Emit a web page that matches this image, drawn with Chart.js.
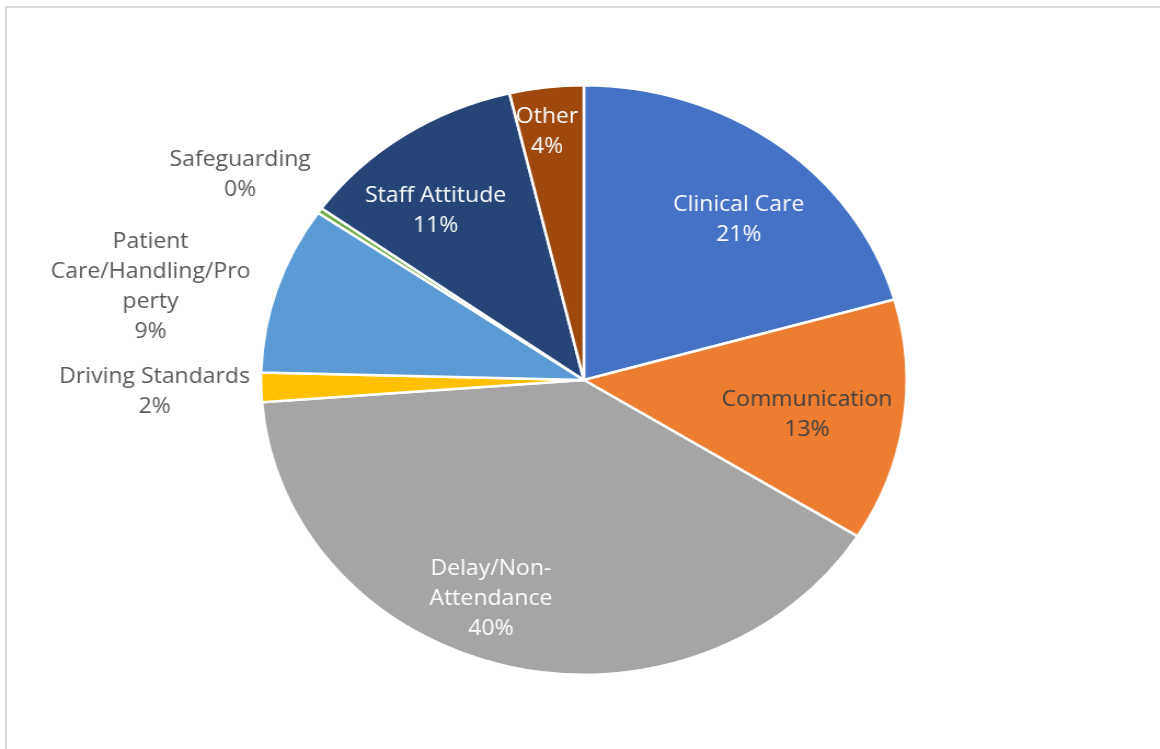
<!DOCTYPE html>
<html>
<head>
<meta charset="utf-8">
<script src="https://cdn.jsdelivr.net/npm/chart.js@4/dist/chart.umd.min.js"></script>
<style>
	html, body {
		margin: 0;
		padding: 0;
		background: #ffffff;
		overflow: hidden;
	}
	.frame {
		position: absolute;
		left: 5px;
		top: 6px;
		width: 1200px;
		height: 800px;
		border: 2px solid #d9d9d9;
	}
	.wrap {
		position: absolute;
		left: 0;
		top: 0;
		width: 1059px;
		height: 749px;
		transform: scaleX(1.0954);
		transform-origin: 0 0;
	}
</style>
</head>
<body>
<div class="frame"></div>
<div class="wrap"><canvas id="complaintsPie"></canvas></div>

<script>
// Complaint categories, with the line breaks used for their labels
const categories = [
	["Clinical Care"],
	["Communication"],
	["Delay/Non-", "Attendance"],
	["Driving Standards"],
	["Patient", "Care/Handling/Pro", "perty"],
	["Safeguarding"],
	["Staff Attitude"],
	["Other"],
];

// Share of complaints per category (%)
const shares = [20.6, 13.3, 39.9, 1.6, 9.2, 0.3, 11.4, 3.7];

const sliceColors = ["#4472c4", "#ed7d31", "#a5a5a5", "#ffc000", "#5b9bd5", "#70ad47", "#264478", "#9e480e"];

// Label text colour per slice
const labelColors = ["#ffffff", "#404040", "#ffffff", "#595959", "#595959", "#595959", "#ffffff", "#ffffff"];

// Where each label sits: distance as a fraction of the radius, angle nudge in degrees
const labelPlace = [
	{ r: 0.73, d: 4 },
	{ r: 0.7, d: 1 },
	{ r: 0.79, d: 7.5 },
	{ r: 1.33, d: 0 },
	{ r: 1.38, d: -4.5 },
	{ r: 1.275, d: -1.7 },
	{ r: 0.74, d: -4.5 },
	{ r: 0.855, d: -1 },
];

const fontFamily = "'Open Sans', 'Noto Sans', sans-serif";
const lineHeight = 30;

// Draws "Category / xx%" labels on or next to each slice
const sliceLabels = {
	id: "sliceLabels",
	afterDatasetsDraw(chart) {
		const ctx = chart.ctx;
		const meta = chart.getDatasetMeta(0);
		const total = shares.reduce((a, b) => a + b, 0);

		ctx.save();
		ctx.font = `21px ${fontFamily}`;
		ctx.textAlign = "center";
		ctx.textBaseline = "middle";

		meta.data.forEach((arc, i) => {
			const { x, y, startAngle, endAngle, outerRadius } = arc.getProps(
				["x", "y", "startAngle", "endAngle", "outerRadius"],
				true
			);
			const mid = (startAngle + endAngle) / 2 + (labelPlace[i].d * Math.PI) / 180;
			const dist = outerRadius * labelPlace[i].r;
			const cx = x + Math.cos(mid) * dist;
			const cy = y + Math.sin(mid) * dist + 2;

			const lines = [...categories[i], `${Math.round((shares[i] / total) * 100)}%`];
			const top = cy - ((lines.length - 1) * lineHeight) / 2;

			ctx.fillStyle = labelColors[i];
			lines.forEach((line, j) => ctx.fillText(line, cx, top + j * lineHeight));
		});

		ctx.restore();
	},
};

new Chart(document.getElementById("complaintsPie"), {
	type: "pie",
	data: {
		labels: categories.map((c) => c.join(" ")),
		datasets: [
			{
				data: shares,
				backgroundColor: sliceColors,
				borderColor: "#ffffff",
				borderWidth: 2.5,
			},
		],
	},
	options: {
		responsive: true,
		maintainAspectRatio: false,
		devicePixelRatio: 1,
		animation: false,
		layout: {
			padding: { top: 84, bottom: 73, left: 237, right: 230 },
		},
		plugins: {
			legend: { display: false },
			tooltip: { enabled: false },
		},
	},
	plugins: [sliceLabels],
});
</script>
</body>
</html>
